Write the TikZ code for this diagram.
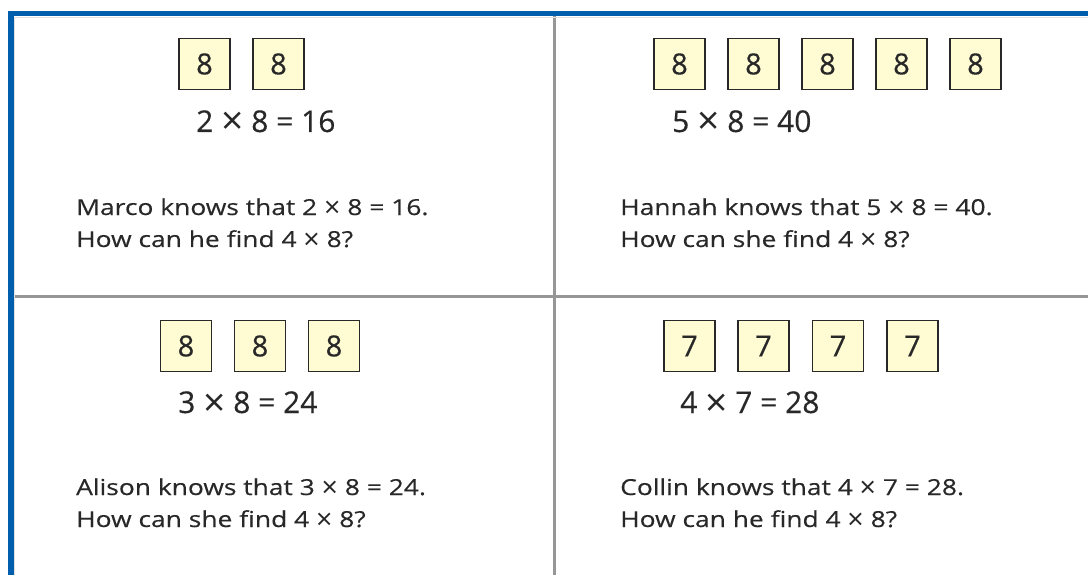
\documentclass[tikz,border=0pt]{standalone}
\usepackage{fontspec}
\setmainfont{Open Sans}[FakeBold=0.4]
\newfontfamily\widefont{Open Sans}[FakeStretch=1.2,FakeBold=0.4]
\newfontfamily\timesfont{Open Sans}
\definecolor{frameblue}{RGB}{0,94,172}
\definecolor{gridgray}{RGB}{150,150,150}
\definecolor{txt}{RGB}{40,40,40}
\definecolor{boxfill}{RGB}{255,251,210}
\newcommand{\tms}{\raisebox{-0.1em}{\scalebox{1.3}{\timesfont ×}}}
\begin{document}
\begin{tikzpicture}[x=1pt,y=-1pt,
  numbox/.style={draw=txt,line width=1.6pt,fill=boxfill,minimum width=51pt,minimum height=51pt,inner sep=0pt,text=txt,font=\fontsize{29}{29}\selectfont},
  eqn/.style={anchor=base west,inner sep=0pt,text=txt,font=\fontsize{30}{30}\selectfont},
  para/.style={anchor=base west,inner sep=0pt,text=txt,align=left,font=\widefont\fontsize{22}{32}\selectfont}]
\useasboundingbox (0,0) rectangle (1088,575);
% grid lines
\draw[gridgray,line width=2.6pt] (554.5,16) -- (554.5,575);
\draw[gridgray,line width=2.6pt] (14,296.5) -- (1088,296.5);
% blue frame
\fill[frameblue] (8,11) rectangle (1088,16.5);
\fill[frameblue] (8,11) rectangle (14,575);
\draw[black!12,line width=0.8pt] (14.5,17) -- (1088,17);
\draw[black!12,line width=0.8pt] (14.5,17) -- (14.5,575);
% panel 1
\node[numbox] (a1) at (204.5,64) {8};
\node[numbox] (a2) at (278.5,64) {8};
\node[eqn] (ea) at (196,132) {2 \tms{} 8 = 16};
\node[para] (pa) at (76,247) {Marco knows that 2 \tms{} 8 = 16.\\How can he find 4 \tms{} 8?};
% panel 2
\node[numbox] (b1) at (679.5,64) {8};
\node[numbox] (b2) at (753.5,64) {8};
\node[numbox] (b3) at (827.5,64) {8};
\node[numbox] (b4) at (901.5,64) {8};
\node[numbox] (b5) at (975.5,64) {8};
\node[eqn] (eb) at (672,132) {5 \tms{} 8 = 40};
\node[para] (pb) at (620,247) {Hannah knows that 5 \tms{} 8 = 40.\\How can she find 4 \tms{} 8?};
% panel 3
\node[numbox] (c1) at (186,346) {8};
\node[numbox] (c2) at (260,346) {8};
\node[numbox] (c3) at (334,346) {8};
\node[eqn] (ec) at (178,413) {3 \tms{} 8 = 24};
\node[para] (pc) at (76,527) {Alison knows that 3 \tms{} 8 = 24.\\How can she find 4 \tms{} 8?};
% panel 4
\node[numbox] (d1) at (689.5,346) {7};
\node[numbox] (d2) at (763.5,346) {7};
\node[numbox] (d3) at (838,346) {7};
\node[numbox] (d4) at (912.5,346) {7};
\node[eqn] (ed) at (680,413) {4 \tms{} 7 = 28};
\node[para] (pd) at (620,527) {Collin knows that 4 \tms{} 7 = 28.\\How can he find 4 \tms{} 8?};
\end{tikzpicture}
\end{document}
